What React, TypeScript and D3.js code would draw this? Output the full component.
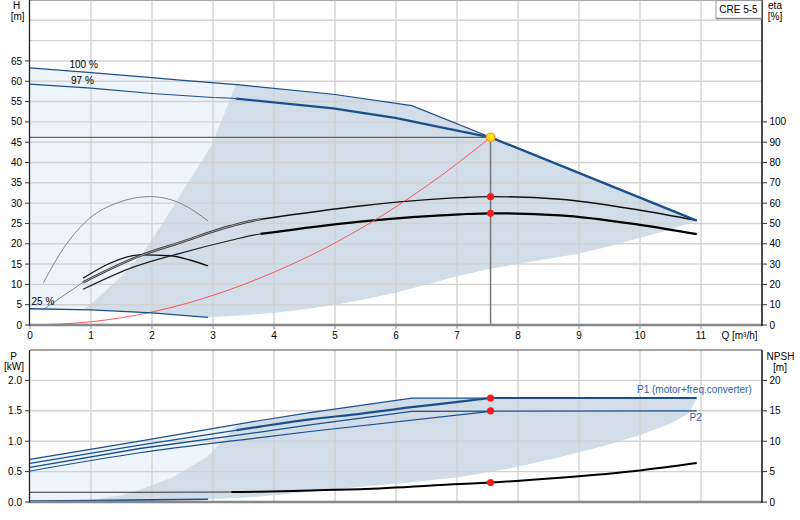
import React from 'react';
import * as d3 from 'd3';

// ---------- ticks ----------
const qTicks = [0, 1, 2, 3, 4, 5, 6, 7, 8, 9, 10, 11];
const hTicks = [0, 5, 10, 15, 20, 25, 30, 35, 40, 45, 50, 55, 60, 65];
const hGrid = [5, 10, 15, 20, 25, 30, 35, 40, 45, 50, 55, 60, 65, 70, 75];
const etaTicks = [0, 10, 20, 30, 40, 50, 60, 70, 80, 90, 100];
const pTicks = [0, 0.5, 1.0, 1.5, 2.0];
const npshTicks = [0, 5, 10, 15, 20];

// ---------- H curves (Q m3/h, H m) ----------
const h100Q = [0, 1, 2, 2.46, 3.44, 4.97, 6.26, 7.55, 10.93];
const h100H = [63.3, 62.1, 60.9, 60.3, 59.1, 56.8, 54.0, 46.2, 25.7];
const h97Q = [0, 1, 2, 3, 3.33, 4.97, 6.01, 6.56, 7.55, 10.93];
const h97H = [59.3, 58.3, 57.0, 56.0, 55.8, 53.3, 50.9, 49.2, 46.2, 25.7];
const h25Q = [0, 1, 2, 2.92];
const h25H = [4.0, 3.7, 3.0, 1.9];
const sysQ = [0, 1, 2, 3, 4, 5, 6, 7, 7.55];
const sysH = [0, 0.8, 3.2, 7.3, 13.0, 20.2, 29.1, 39.7, 46.2];

// operating area (H)
const opLeftQ = [0.87, 1.04, 1.53, 1.86, 2.19, 2.57, 2.98, 3.39];
const opLeftH = [3.9, 5.7, 12.3, 18.0, 25.4, 34.5, 44.3, 59.7];
const opLowQ = [2.92, 3.5, 4.0, 4.5, 5.0, 5.5, 6.0, 6.5, 7.0, 7.5, 8.0, 8.5, 9.0, 9.5, 10.0, 10.5, 10.93];
const opLowH = [1.9, 2.4, 3.0, 3.9, 5.0, 6.4, 8.0, 10.0, 12.0, 13.7, 15.1, 16.3, 17.6, 19.4, 21.5, 23.5, 25.7];

// ---------- efficiency (%) ----------
const etaUpQ = [0.22, 0.87, 1.8, 2.46, 3.28, 3.77, 5.41, 7.05, 7.55, 8.69, 10.0, 10.93];
const etaUpV = [7.7, 21.0, 34.0, 40.6, 48.6, 52.0, 58.6, 62.7, 63.2, 61.9, 56.5, 51.5];
const etaLoQ = [0.87, 1.64, 2.46, 3.28, 3.77, 5.41, 7.05, 7.55, 8.69, 10.0, 10.93];
const etaLoV = [17.6, 27.9, 35.3, 41.6, 44.8, 50.9, 54.5, 55.0, 54.0, 49.3, 44.7];
const arcPumpQ = [0.22, 0.55, 0.98, 1.42, 1.97, 2.46, 2.92];
const arcPumpV = [20.8, 37.8, 52.6, 60.0, 63.2, 60.0, 51.2];
const arcTotQ = [0.87, 1.31, 1.8, 2.3, 2.62, 2.92];
const arcTotV = [23.0, 30.4, 34.5, 34.1, 32.0, 29.1];

// ---------- power (kW) ----------
const p1aQ = [0, 1.8, 3.77, 4.59, 6.26, 10.93];
const p1aV = [0.70, 1.0, 1.34, 1.47, 1.71, 1.71];
const p1bQ = [0, 1.8, 3.77, 4.59, 5.41, 6.26, 7.05, 7.55];
const p1bV = [0.635, 0.935, 1.24, 1.36, 1.45, 1.56, 1.65, 1.71];
const p2aQ = [0, 1.8, 3.77, 4.59, 6.26, 10.93];
const p2aV = [0.57, 0.88, 1.15, 1.27, 1.49, 1.50];
const p2bQ = [0, 1.8, 3.77, 4.59, 7.55];
const p2bV = [0.51, 0.81, 1.06, 1.16, 1.49];
const pMinQ = [0, 1, 2, 2.92];
const pMinV = [0.015, 0.025, 0.035, 0.045];
const pLeftQ = [0.9, 1.5, 1.8, 2.35, 2.9, 3.17, 3.4];
const pLeftV = [0.02, 0.11, 0.2, 0.41, 0.74, 1.02, 1.28];
const pLowQ = [2.92, 3.77, 4.5, 5.41, 6.2, 7.05, 7.9, 8.69, 9.4, 10.0, 10.5, 10.8, 10.93];
const pLowV = [0.045, 0.09, 0.16, 0.25, 0.32, 0.41, 0.56, 0.74, 0.92, 1.1, 1.29, 1.46, 1.71];

// ---------- NPSH (m) ----------
const npshQ = [0, 1.8, 3.3, 3.77, 4.59, 5.41, 7.05, 7.55, 8.69, 10.0, 10.93];
const npshV = [1.6, 1.6, 1.65, 1.7, 1.9, 2.1, 2.95, 3.2, 4.0, 5.2, 6.4];

// ---------- duty point ----------
const dutyQ = 7.55;
const dutyH = 46.2;
const dutyEta = [63.2, 55.0];
const dutyP = [1.71, 1.50];
const dutyNpsh = 3.2;

const NAVY = '#1b4f8c';
const LIGHT = '#edf4fb';
const GRAY = '#d1dde8';
const GRID = '#d2d2d2';
const FONT = '"Liberation Sans", Arial, sans-serif';

type Pt = [number, number];
const zip = (qs: number[], vs: number[]): Pt[] => qs.map((q, i) => [q, vs[i]]);
const interp = (qs: number[], vs: number[], q: number) => {
  for (let i = 0; i < qs.length - 1; i++) {
    if (q >= qs[i] && q <= qs[i + 1]) {
      const t = (q - qs[i]) / (qs[i + 1] - qs[i]);
      return vs[i] + t * (vs[i + 1] - vs[i]);
    }
  }
  return q < qs[0] ? vs[0] : vs[vs.length - 1];
};
const seg = (qs: number[], vs: number[], a: number, b: number): Pt[] => {
  const out: Pt[] = [[a, interp(qs, vs, a)]];
  qs.forEach((q, i) => { if (q > a && q < b) out.push([q, vs[i]]); });
  out.push([b, interp(qs, vs, b)]);
  return out;
};

export default function App() {
  const x = d3.scaleLinear().domain([0, 12]).range([30, 762]);
  const yH = d3.scaleLinear().domain([0, 80]).range([325, 0]);
  const yE = d3.scaleLinear().domain([0, 160]).range([325, 0]);
  const yP = d3.scaleLinear().domain([0, 2.5]).range([502, 350]);
  const yN = d3.scaleLinear().domain([0, 25]).range([502, 350]);

  const mk = (ys: d3.ScaleLinear<number, number>, curve: d3.CurveFactory = d3.curveLinear) =>
    d3.line<Pt>().x(d => x(d[0])).y(d => ys(d[1])).curve(curve);
  const lH = mk(yH);
  const lE = mk(yE, d3.curveMonotoneX);
  const lP = mk(yP, d3.curveMonotoneX);
  const lPl = mk(yP);
  const lN = mk(yN, d3.curveMonotoneX);
  const lS = mk(yH, d3.curveMonotoneX);

  const qEnd = 10.93;
  const split = 3.38;

  // H areas
  const lightH: Pt[] = [
    ...zip(h100Q, h100H),
    ...zip(opLowQ, opLowH).reverse(),
    ...zip(h25Q, h25H).reverse(),
  ];
  const grayH: Pt[] = [
    ...zip(opLeftQ, opLeftH),
    ...seg(h100Q, h100H, 3.39, qEnd),
    ...zip(opLowQ, opLowH).reverse(),
    ...seg(h25Q, h25H, 0.87, 2.92).reverse(),
  ];
  // P areas
  const lightP: Pt[] = [
    ...zip(p1aQ, p1aV),
    ...zip(pLowQ, pLowV).reverse(),
    ...zip(pMinQ, pMinV).reverse(),
  ];
  const grayP: Pt[] = [
    ...zip(pLeftQ, pLeftV),
    ...seg(p1aQ, p1aV, 3.4, qEnd),
    ...zip(pLowQ, pLowV).reverse(),
    ...seg(pMinQ, pMinV, 0.9, 2.92).reverse(),
  ];

  const txt = { fontFamily: FONT, fontSize: 10, fill: '#000' } as const;

  return (
    <svg width={800} height={520} style={{ position: 'absolute', left: 0, top: 0, background: '#fff' }}>
      {/* ===== TOP CHART ===== */}
      <path d={lH(lightH) + 'Z'} fill={LIGHT} />
      <path d={lH(grayH) + 'Z'} fill={GRAY} />
      {hGrid.map(v => (
        <line key={'hg' + v} x1={x(0)} x2={x(12)} y1={yH(v)} y2={yH(v)} stroke={GRID} strokeWidth={1.4} />
      ))}
      {qTicks.slice(1).map(q => (
        <line key={'vg' + q} x1={x(q)} x2={x(q)} y1={0} y2={325} stroke={GRID} strokeWidth={1.4} />
      ))}
      <line x1={x(0)} x2={x(12)} y1={0.5} y2={0.5} stroke="#aaa" />

      {/* efficiency arcs at min speed */}
      <path d={lE(zip(arcPumpQ, arcPumpV)) || ''} fill="none" stroke="#777" strokeWidth={0.9} />
      <path d={lE(zip(arcTotQ, arcTotV)) || ''} fill="none" stroke="#111" strokeWidth={1.3} />
      {/* upper eta */}
      <path d={lE(seg(etaUpQ, etaUpV, 0.22, 0.87)) || ''} fill="none" stroke="#777" strokeWidth={0.9} />
      <path d={lE(seg(etaUpQ, etaUpV, 0.87, split + 0.4)) || ''} fill="none" stroke="#333" strokeWidth={2.4} />
      <path d={lE(seg(etaUpQ, etaUpV, 0.87, split + 0.4)) || ''} fill="none" stroke="#bbb" strokeWidth={0.8} />
      <path d={lE(seg(etaUpQ, etaUpV, split + 0.4, qEnd)) || ''} fill="none" stroke="#111" strokeWidth={1.4} />
      {/* lower eta */}
      <path d={lE(seg(etaLoQ, etaLoV, 0.87, split + 0.4)) || ''} fill="none" stroke="#222" strokeWidth={1.2} />
      <path d={lE(seg(etaLoQ, etaLoV, split + 0.4, qEnd)) || ''} fill="none" stroke="#000" strokeWidth={2.2} />

      {/* system curve */}
      <path d={lS(zip(sysQ, sysH)) || ''} fill="none" stroke="#ff4444" strokeWidth={0.9} />

      {/* duty lines */}
      <line x1={x(0)} x2={x(dutyQ)} y1={yH(dutyH)} y2={yH(dutyH)} stroke="#666" strokeWidth={1.2} />
      <line x1={x(dutyQ)} x2={x(dutyQ)} y1={yH(dutyH)} y2={325} stroke="#777" strokeWidth={1.5} />

      {/* H curves */}
      <path d={lH(zip(h25Q, h25H)) || ''} fill="none" stroke={NAVY} strokeWidth={1.3} />
      <path d={lH(zip(h100Q, h100H)) || ''} fill="none" stroke={NAVY} strokeWidth={1.2} />
      <path d={lH(seg(h97Q, h97H, 0, split)) || ''} fill="none" stroke={NAVY} strokeWidth={1.1} />
      <path d={lH(seg(h97Q, h97H, split, qEnd)) || ''} fill="none" stroke={NAVY} strokeWidth={2.3} />

      {/* duty markers */}
      {dutyEta.map((e, i) => (
        <circle key={'de' + i} cx={x(dutyQ)} cy={yE(e)} r={3.6} fill="#ff1a1a" />
      ))}
      <circle cx={x(dutyQ)} cy={yH(dutyH)} r={4.2} fill="#ffe800" stroke="#ff9933" strokeWidth={1.4} />

      {/* axes */}
      <line x1={x(0)} x2={x(12)} y1={325} y2={325} stroke="#888" strokeWidth={2.5} />
      <line x1={29.5} x2={29.5} y1={0} y2={326} stroke="#222" strokeWidth={1.3} />
      <line x1={762} x2={762} y1={0} y2={326} stroke="#111" strokeWidth={1.5} />
      {qTicks.map(q => (
        <g key={'qt' + q}>
          <line x1={x(q)} x2={x(q)} y1={325} y2={329} stroke="#888" />
          <text {...txt} x={x(q)} y={339} textAnchor="middle">{q}</text>
        </g>
      ))}
      <text {...txt} x={739.5} y={339} textAnchor="middle">Q [m³/h]</text>
      {hTicks.map(v => (
        <g key={'ht' + v}>
          <line x1={25} x2={30} y1={yH(v)} y2={yH(v)} stroke="#333" />
          <text {...txt} x={22} y={yH(v) + 3.6} textAnchor="end">{v}</text>
        </g>
      ))}
      {etaTicks.map(v => (
        <g key={'et' + v}>
          <line x1={762} x2={767} y1={yE(v)} y2={yE(v)} stroke="#333" />
          <text {...txt} x={769.5} y={yE(v) + 3.6}>{v}</text>
        </g>
      ))}
      <text {...txt} x={16.7} y={8.5} textAnchor="middle">H</text>
      <text {...txt} x={17.7} y={19.5} textAnchor="middle">[m]</text>
      <text {...txt} x={775} y={8.5} textAnchor="middle">eta</text>
      <text {...txt} x={775} y={19.5} textAnchor="middle">[%]</text>

      {/* curve labels */}
      <text {...txt} x={69.5} y={68.3}>100 %</text>
      <text {...txt} x={71} y={84.3}>97 %</text>
      <text {...txt} x={31.5} y={305}>25 %</text>

      {/* title box */}
      <rect x={716} y={0.5} width={45.5} height={18} fill="#fff" stroke="#999" />
      <line x1={716} x2={762} y1={18.5} y2={18.5} stroke="#888" strokeWidth={1.5} />
      <text {...txt} x={738.5} y={12.5} textAnchor="middle">CRE 5-5</text>

      {/* ===== BOTTOM CHART ===== */}
      <path d={lPl(lightP) + 'Z'} fill={LIGHT} />
      <path d={lPl(grayP) + 'Z'} fill={GRAY} />
      {pTicks.slice(1).map(v => (
        <line key={'pg' + v} x1={x(0)} x2={x(12)} y1={yP(v)} y2={yP(v)} stroke={GRID} strokeWidth={1.4} />
      ))}
      {qTicks.slice(1).map(q => (
        <line key={'pvg' + q} x1={x(q)} x2={x(q)} y1={350} y2={502} stroke={GRID} strokeWidth={1.4} />
      ))}

      {/* NPSH */}
      <path d={lN(seg(npshQ, npshV, 0, 3.3)) || ''} fill="none" stroke="#333" strokeWidth={1.1} />
      <path d={lN(seg(npshQ, npshV, 3.3, qEnd)) || ''} fill="none" stroke="#000" strokeWidth={2} />

      {/* power curves */}
      <path d={lPl(zip(pMinQ, pMinV)) || ''} fill="none" stroke={NAVY} strokeWidth={1.6} />
      <path d={lPl(seg(p1aQ, p1aV, 0, dutyQ)) || ''} fill="none" stroke={NAVY} strokeWidth={1.2} />
      <path d={lPl(seg(p1aQ, p1aV, dutyQ, qEnd)) || ''} fill="none" stroke={NAVY} strokeWidth={2} />
      <path d={lP(seg(p1bQ, p1bV, 0, split)) || ''} fill="none" stroke={NAVY} strokeWidth={1.1} />
      <path d={lP(seg(p1bQ, p1bV, split, dutyQ)) || ''} fill="none" stroke={NAVY} strokeWidth={2.2} />
      <path d={lPl(zip(p2aQ, p2aV)) || ''} fill="none" stroke={NAVY} strokeWidth={1.3} />
      <path d={lP(zip(p2bQ, p2bV)) || ''} fill="none" stroke={NAVY} strokeWidth={1.2} />

      {dutyP.map((p, i) => (
        <circle key={'dp' + i} cx={x(dutyQ)} cy={yP(p)} r={3.6} fill="#ff1a1a" />
      ))}
      <circle cx={x(dutyQ)} cy={yN(dutyNpsh)} r={3.6} fill="#ff1a1a" />

      <text x={637} y={392.5} fontFamily={FONT} fontSize={10} fill="#2a62a6">P1 (motor+freq.converter)</text>
      <text x={689.5} y={421} fontFamily={FONT} fontSize={10} fill="#2a62a6">P2</text>

      {/* axes */}
      <line x1={x(0)} x2={x(12)} y1={350} y2={350} stroke="#888" strokeWidth={1.5} />
      <line x1={x(0)} x2={x(12)} y1={502} y2={502} stroke="#888" strokeWidth={2.5} />
      <line x1={29.5} x2={29.5} y1={350} y2={503} stroke="#222" strokeWidth={1.3} />
      <line x1={762} x2={762} y1={350} y2={503} stroke="#111" strokeWidth={1.5} />
      {pTicks.map(v => (
        <g key={'pt' + v}>
          <line x1={25} x2={30} y1={yP(v)} y2={yP(v)} stroke="#333" />
          <text {...txt} x={22} y={yP(v) + 3.6} textAnchor="end">{v.toFixed(1)}</text>
        </g>
      ))}
      {npshTicks.map(v => (
        <g key={'nt' + v}>
          <line x1={762} x2={767} y1={yN(v)} y2={yN(v)} stroke="#333" />
          <text {...txt} x={769.5} y={yN(v) + 3.6}>{v}</text>
        </g>
      ))}
      <text {...txt} x={13.5} y={359.5} textAnchor="middle">P</text>
      <text {...txt} x={14} y={370} textAnchor="middle">[kW]</text>
      <text {...txt} x={780.5} y={360} textAnchor="middle">NPSH</text>
      <text {...txt} x={780} y={370.5} textAnchor="middle">[m]</text>
    </svg>
  );
}
